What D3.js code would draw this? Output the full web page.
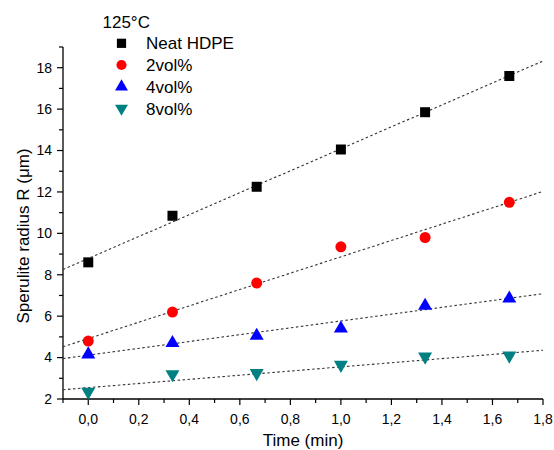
<!DOCTYPE html>
<html><head><meta charset="utf-8">
<script src="https://cdn.jsdelivr.net/npm/d3@7"></script>
<style>body{margin:0;background:#fff}svg{display:block;font-family:"Liberation Sans",Arial,sans-serif}</style>
</head><body><svg id="c" width="554" height="450"></svg>
<script>
const times = [0, 1/3, 2/3, 1, 4/3, 5/3];
const neat = [8.6, 10.85, 12.25, 14.05, 15.85, 17.6];
const vol2 = [4.8, 6.2, 7.6, 9.35, 9.8, 11.5];
const vol4 = [4.2, 4.75, 5.1, 5.45, 6.55, 6.9];
const vol8 = [2.3, 3.15, 3.2, 3.6, 4.0, 4.05];
const seriesNames = ["Neat HDPE", "2vol%", "4vol%", "8vol%"];
const xTicks = [0, 0.2, 0.4, 0.6, 0.8, 1.0, 1.2, 1.4, 1.6, 1.8];
const yTicks = [2, 4, 6, 8, 10, 12, 14, 16, 18];

const series = [
  {name: seriesNames[0], vals: neat, color: "#000000", sym: d3.symbolSquare, size: 100, rot: 0},
  {name: seriesNames[1], vals: vol2, color: "#ff0000", sym: d3.symbolCircle, size: 95, rot: 0},
  {name: seriesNames[2], vals: vol4, color: "#0000ff", sym: d3.symbolTriangle, size: 85, rot: 0},
  {name: seriesNames[3], vals: vol8, color: "#008080", sym: d3.symbolTriangle, size: 85, rot: 180}
];

const svg = d3.select("#c");
const x = d3.scaleLinear().domain([-0.1, 1.8]).range([63, 543]);
const y = d3.scaleLinear().domain([2, 19]).range([399, 47]);
const fmt = d => d3.format(".1f")(d).replace(".", ",");

// x axis
const xa = svg.append("g").attr("transform", "translate(0,399)");
xa.append("line").attr("x1", x(-0.1)).attr("x2", x(1.8)).attr("stroke", "#000").attr("stroke-width", 1.3);
d3.range(-1, 19).forEach(i => {
  const v = i / 10;
  const major = i >= 0 && i % 2 === 0;
  xa.append("line").attr("x1", x(v)).attr("x2", x(v)).attr("y1", 0).attr("y2", major ? 6 : 4)
    .attr("stroke", "#000").attr("stroke-width", 1.2);
});
xTicks.forEach(v => {
  xa.append("text").attr("x", x(v)).attr("y", 24.5).attr("text-anchor", "middle")
    .attr("font-size", 14).attr("fill", "#000").text(fmt(v));
});
svg.append("text").attr("x", 303).attr("y", 445.5).attr("text-anchor", "middle")
  .attr("font-size", 17).text("Time (min)");

// y axis
const ya = svg.append("g").attr("transform", "translate(63,0)");
ya.append("line").attr("y1", y(2)).attr("y2", y(19)).attr("stroke", "#000").attr("stroke-width", 1.3);
d3.range(2, 20).forEach(v => {
  const major = v % 2 === 0;
  ya.append("line").attr("y1", y(v)).attr("y2", y(v)).attr("x1", 0).attr("x2", major ? -6 : -4)
    .attr("stroke", "#000").attr("stroke-width", 1.2);
});
yTicks.forEach(v => {
  ya.append("text").attr("x", -11).attr("y", y(v)).attr("dy", "0.35em").attr("text-anchor", "end")
    .attr("font-size", 14).text(v);
});
svg.append("text").attr("transform", "translate(29,236) rotate(-90)").attr("text-anchor", "middle")
  .attr("font-size", 17).text("Sperulite radius R (μm)");

// fit lines
series.forEach(s => {
  const n = times.length;
  const mx = d3.mean(times), my = d3.mean(s.vals);
  let sxy = 0, sxx = 0;
  for (let i = 0; i < n; i++) { sxy += (times[i]-mx)*(s.vals[i]-my); sxx += (times[i]-mx)**2; }
  const b = sxy / sxx, a = my - b * mx;
  svg.append("line").attr("x1", x(-0.1)).attr("y1", y(a + b * -0.1)).attr("x2", x(1.8)).attr("y2", y(a + b * 1.8))
    .attr("stroke", "#333").attr("stroke-width", 1.1).attr("stroke-dasharray", "2.5,2.5");
});

// points
series.forEach(s => {
  const sym = d3.symbol().type(s.sym).size(s.size);
  svg.append("g").selectAll("path").data(s.vals).join("path")
    .attr("d", sym)
    .attr("transform", (d, i) => `translate(${x(times[i])},${y(d) + (s.rot ? -1 : (s.sym === d3.symbolTriangle ? 1 : 0))}) rotate(${s.rot})`)
    .attr("fill", s.color);
});

// legend
svg.append("text").attr("x", 102.5).attr("y", 27.7).attr("font-size", 17).text("125°C");
series.forEach((s, i) => {
  const yy = 43.3 + i * 21.7;
  const sym = d3.symbol().type(s.sym).size(s.size * 0.85);
  svg.append("path").attr("d", sym).attr("transform", `translate(121.5,${yy}) rotate(${s.rot})`).attr("fill", s.color);
  svg.append("text").attr("x", 146).attr("y", yy).attr("dy", "0.36em").attr("font-size", 17).text(s.name);
});
</script></body></html>
